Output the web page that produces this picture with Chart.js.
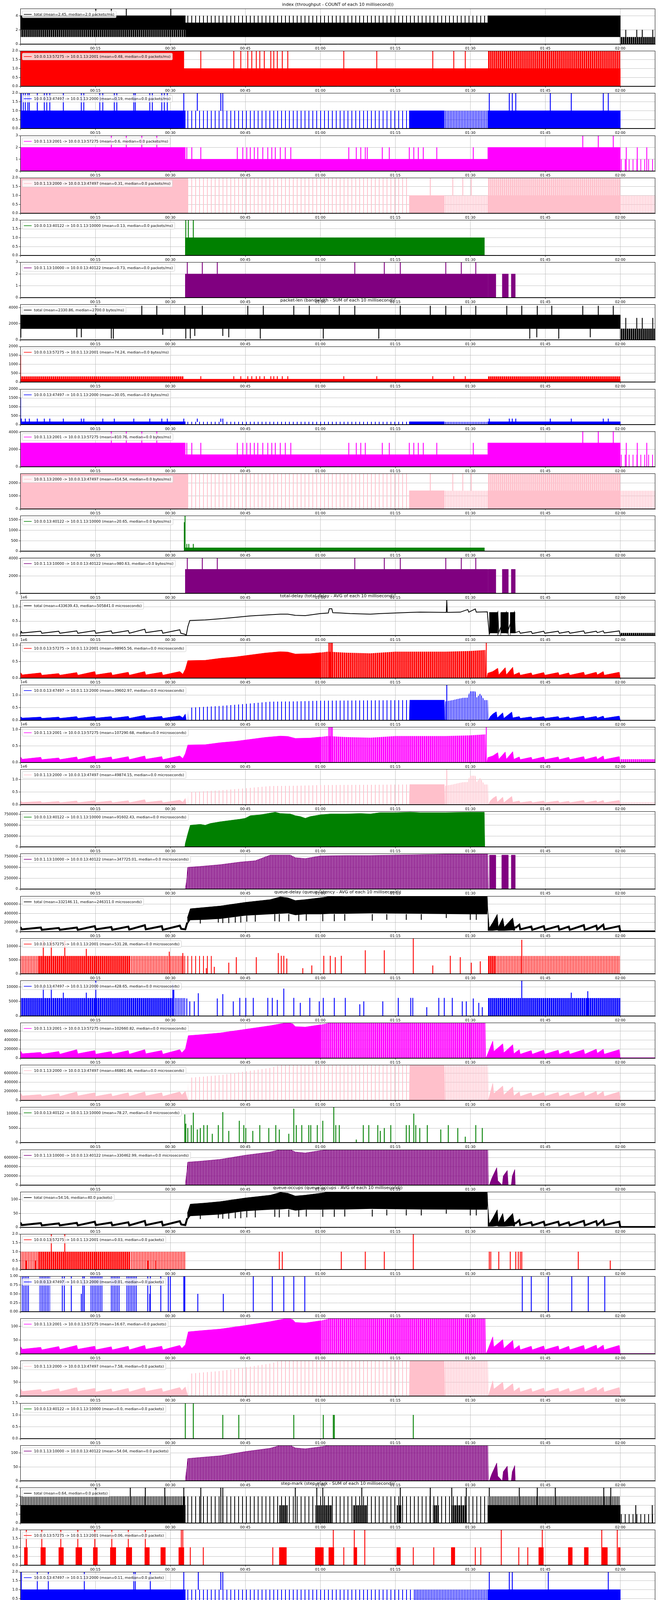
<!DOCTYPE html>
<html>
<head>
<meta charset="utf-8">
<script src="https://cdn.jsdelivr.net/npm/chart.js@4.4.0/dist/chart.umd.min.js"></script>
<style>
  body { margin: 0; background: #fff; }
  #wrap { position: relative; width: 1685px; height: 5328px; }
  #wrap canvas { position: absolute; left: 0; }
</style>
</head>
<body>
<div id="wrap"></div>
<script>
// x axis is in minutes (00:00 .. ~02:07)
const xTicks = [0, 15, 30, 45, 60, 75, 90, 105, 120];
const xTickLabels = ['', '00:15', '00:30', '00:45', '01:00', '01:15', '01:30', '01:45', '02:00'];

const groupTitles = [
  'index (throughput - COUNT of each 10 millisecond))',
  'packet-len (bandwidth - SUM of each 10 millisecond))',
  'total-delay (total-delay - AVG of each 10 millisecond))',
  'queue-delay (queue-latency - AVG of each 10 millisecond))',
  'queue-occups (queue-occups - AVG of each 10 millisecond))',
  'step-mark (step-mark - SUM of each 10 millisecond))',
  'mark-proba (mark-proba - AVG of each 10 millisecond))'
];

const legendLabels = [
  'total (mean=2.45, median=2.0 packets/ms)',
  '10.0.0.13:57275 -> 10.0.1.13:2001 (mean=0.48, median=0.0 packets/ms)',
  '10.0.0.13:47497 -> 10.0.1.13:2000 (mean=0.19, median=0.0 packets/ms)',
  '10.0.1.13:2001 -> 10.0.0.13:57275 (mean=0.6, median=0.0 packets/ms)',
  '10.0.1.13:2000 -> 10.0.0.13:47497 (mean=0.31, median=0.0 packets/ms)',
  '10.0.0.13:40122 -> 10.0.1.13:10000 (mean=0.13, median=0.0 packets/ms)',
  '10.0.1.13:10000 -> 10.0.0.13:40122 (mean=0.73, median=0.0 packets/ms)',
  'total (mean=2330.86, median=2700.0 bytes/ms)',
  '10.0.0.13:57275 -> 10.0.1.13:2001 (mean=74.24, median=0.0 bytes/ms)',
  '10.0.0.13:47497 -> 10.0.1.13:2000 (mean=30.05, median=0.0 bytes/ms)',
  '10.0.1.13:2001 -> 10.0.0.13:57275 (mean=810.76, median=0.0 bytes/ms)',
  '10.0.1.13:2000 -> 10.0.0.13:47497 (mean=414.54, median=0.0 bytes/ms)',
  '10.0.0.13:40122 -> 10.0.1.13:10000 (mean=20.65, median=0.0 bytes/ms)',
  '10.0.1.13:10000 -> 10.0.0.13:40122 (mean=980.63, median=0.0 bytes/ms)',
  'total (mean=433639.43, median=505841.0 microseconds)',
  '10.0.0.13:57275 -> 10.0.1.13:2001 (mean=98965.56, median=0.0 microseconds)',
  '10.0.0.13:47497 -> 10.0.1.13:2000 (mean=39602.97, median=0.0 microseconds)',
  '10.0.1.13:2001 -> 10.0.0.13:57275 (mean=107290.68, median=0.0 microseconds)',
  '10.0.1.13:2000 -> 10.0.0.13:47497 (mean=49874.15, median=0.0 microseconds)',
  '10.0.0.13:40122 -> 10.0.1.13:10000 (mean=91602.43, median=0.0 microseconds)',
  '10.0.1.13:10000 -> 10.0.0.13:40122 (mean=347725.01, median=0.0 microseconds)',
  'total (mean=332146.11, median=246311.0 microseconds)',
  '10.0.0.13:57275 -> 10.0.1.13:2001 (mean=531.28, median=0.0 microseconds)',
  '10.0.0.13:47497 -> 10.0.1.13:2000 (mean=428.65, median=0.0 microseconds)',
  '10.0.1.13:2001 -> 10.0.0.13:57275 (mean=102660.82, median=0.0 microseconds)',
  '10.0.1.13:2000 -> 10.0.0.13:47497 (mean=46861.46, median=0.0 microseconds)',
  '10.0.0.13:40122 -> 10.0.1.13:10000 (mean=78.27, median=0.0 microseconds)',
  '10.0.1.13:10000 -> 10.0.0.13:40122 (mean=330462.99, median=0.0 microseconds)',
  'total (mean=54.16, median=40.0 packets)',
  '10.0.0.13:57275 -> 10.0.1.13:2001 (mean=0.03, median=0.0 packets)',
  '10.0.0.13:47497 -> 10.0.1.13:2000 (mean=0.01, median=0.0 packets)',
  '10.0.1.13:2001 -> 10.0.0.13:57275 (mean=16.67, median=0.0 packets)',
  '10.0.1.13:2000 -> 10.0.0.13:47497 (mean=7.58, median=0.0 packets)',
  '10.0.0.13:40122 -> 10.0.1.13:10000 (mean=0.0, median=0.0 packets)',
  '10.0.1.13:10000 -> 10.0.0.13:40122 (mean=54.04, median=0.0 packets)',
  'total (mean=0.64, median=0.0 packets)',
  '10.0.0.13:57275 -> 10.0.1.13:2001 (mean=0.06, median=0.0 packets)',
  '10.0.0.13:47497 -> 10.0.1.13:2000 (mean=0.11, median=0.0 packets)',
  '10.0.1.13:2001 -> 10.0.0.13:57275 (mean=0.13, median=0.0 packets)',
  '10.0.1.13:2000 -> 10.0.0.13:47497 (mean=0.2, median=0.0 packets)',
  '10.0.0.13:40122 -> 10.0.1.13:10000 (mean=0.01, median=0.0 packets)',
  '10.0.1.13:10000 -> 10.0.0.13:40122 (mean=0.14, median=0.0 packets)',
  'total (mean=28.66, median=0.0 percentage)',
  '10.0.0.13:57275 -> 10.0.1.13:2001 (mean=7.28, median=0.0 percentage)',
  '10.0.0.13:47497 -> 10.0.1.13:2000 (mean=12.92, median=0.0 percentage)',
  '10.0.1.13:2001 -> 10.0.0.13:57275 (mean=9.55, median=0.0 percentage)',
  '10.0.1.13:2000 -> 10.0.0.13:47497 (mean=18.21, median=0.0 percentage)',
  '10.0.0.13:40122 -> 10.0.1.13:10000 (mean=1.87, median=0.0 percentage)',
  '10.0.1.13:10000 -> 10.0.0.13:40122 (mean=8.94, median=0.0 percentage)'
];

// "step" rows hold until the next row; spikes are single thin lines [minute, low, high].

// ---------- index ----------
const idxTotSolid = [[0,2,4],[33,1,3],[93.5,1,4],[120,0,0],[127,0,0]];
const idxTotDense = [[0,1,2],[33,0,0],[120,0,1],[127,0,1]];
const idxTotSparse = [[33,3,4],[93.5,3,3]];
const idxTotSpikes = [[15.1,4,5],[18.2,4,5],[21.2,4,5],[30.1,4,5],[121.1,1,2],[123.3,1,2],[124.4,1,2],[126.5,1,2]];

const idxRSolid = [[0,0,2],[32.7,0,1],[120,0,0],[127,0,0]];
const idxRDense = [[93.5,1,2],[120,1,1]];
const idxRSpikes = [[36.1,1,2],[42.7,1,2],[44.1,1,2],[45.5,1,2],[46.3,1,2],[47.2,1,2],[47.9,1,2],[48.8,1,2],[50.1,1,2],[50.7,1,2],[51.4,1,2],[52.4,1,2],[53.5,1,2],[64.7,1,2],[71.3,1,2],[82.5,1,2],[86.7,1,2],[89.0,1,2]];

const idxBSolid = [[0,0,1],[33,0,0],[77.8,0,1],[84.8,0,0],[93.5,0,1],[120,0,0],[127,0,0]];
const idxBSparse = [[33,0,1],[77.8,0,0]];
const idxBMid = [[84.8,0,1],[93.5,0,0]];
const idxBSpikes = [[0.2,1,2],[0.6,1,2],[1.0,1,2],[1.5,1,2],[1.8,1,2],[3.4,1,2],[4.8,1,2],[5.3,1,2],[5.9,1,2],[8.6,1,2],[12.2,1,2],[12.7,1,2],[15.9,1,2],[16.5,1,2],[18.8,1,2],[19.3,1,2],[22.7,1,2],[23.0,1,2],[25.9,1,2],[26.4,1,2],[28.3,1,2],[28.8,1,2],[29.4,1,2],[32.7,1,2],[35.4,1,2],[40.1,1,2],[40.5,1,2],[93.8,1,2],[97.8,1,2],[98.4,1,2],[99.1,1,2],[106.0,1,2],[110.2,1,2],[116.6,1,2],[117.6,1,2]];

const idxMSolid = [[0,0,2],[33,0,1],[93.5,0,2],[120,0,0],[127,0,0]];
const idxMSparse = [[120,0,1],[127,0,0]];
const idxMSpikes = [[18.2,2,3],[21.2,2,3],[24.3,2,3],[27.3,2,3],[112.5,2,3],[115.6,2,3],[118.6,2,3],[33.3,1,2],[34.3,1,2],[36.1,1,2],[43.4,1,2],[44.5,1,2],[45.3,1,2],[46.0,1,2],[46.8,1,2],[47.5,1,2],[48.5,1,2],[49.5,1,2],[50.3,1,2],[51.0,1,2],[52.0,1,2],[53.0,1,2],[54.1,1,2],[65.7,1,2],[67.2,1,2],[68.1,1,2],[69.0,1,2],[69.4,1,2],[72.4,1,2],[73.8,1,2],[77.8,1,2],[78.7,1,2],[79.6,1,2],[80.6,1,2],[83.3,1,2],[90.6,1,2],[121.2,0,2],[123.4,0,2],[125.3,0,2]];

const idxPSolid = [[0,0,2],[33.5,0,0],[77.8,0,1],[84.8,0,0],[93.5,0,1],[120,0,0],[127,0,0]];
const idxPSparse = [[33.5,0,2],[77.8,0,0]];
const idxPMid = [[84.8,0,1],[93.5,0,0],[120,0,1],[127,0,0]];
const idxPDense = [[93.5,1,2],[120,1,1]];
const idxPSpikes = [[82.0,1,2],[86.5,1,2],[88.5,1,2],[90.2,1,2]];

const idxGSolid = [[0,0,0],[33,0,1],[92.8,0,0],[127,0,0]];
const idxGSpikes = [[33.1,1,2],[33.6,1,2],[34.6,1,2]];

const idxUSolid = [[0,0,0],[33,0,2],[93.5,0,0],[93.6,0,2],[95.1,0,0],[96.4,0,2],[97.6,0,0],[98.2,0,2],[99,0,0],[127,0,0]];
const idxUSpikes = [[33.4,2,3],[36.4,2,3],[39.4,2,3],[66.9,2,3],[72.8,2,3],[76.0,2,3],[85.1,2,3],[88.2,2,3],[91.1,2,3]];

// ---------- packet-len ----------
const lenTotSolid = [[0,1370,3080],[120,0,0],[127,0,0]];
const lenTotDense = [[120,0,1390],[127,0,1390]];
const lenTotSpikes = [[15.1,3000,4200],[24.3,3000,4200],[27.3,3000,4200],[32.9,3000,4200],[36.4,3000,4200],[45.5,3000,4200],[48.6,3000,4200],[54.7,3000,4200],[57.8,3000,4200],[63.8,3000,4200],[66.9,3000,4200],[76.0,3000,4200],[82.0,3000,4200],[85.1,3000,4200],[88.2,3000,4200],[91.1,3000,4200],[97.3,3000,4200],[100.3,3000,4200],[103.4,3000,4200],[106.3,3000,4200],[112.5,3000,4200],[115.6,3000,4200],[118.6,3000,4200],[0.1,300,1400],[11.3,330,1400],[12.2,330,1400],[18.2,150,1400],[18.6,150,1400],[28.5,640,1400],[33.1,150,1400],[34.0,150,1400],[34.9,500,1400],[40.5,500,1400],[41.7,330,1400],[48.0,150,1400],[60.6,150,1400],[71.7,150,1400],[101.9,150,1400],[103.3,330,1400],[107.7,150,1400],[114.0,330,1400],[121.1,1390,2700],[123.3,1390,2700],[124.4,1390,2700],[126.5,1390,2700]];

const lenRSolid = [[0,0,160],[120,0,0],[127,0,0]];
const lenRDense = [[0,160,320],[32.7,160,160],[93.5,160,320],[120,160,160]];
const lenRSpikes = [[0.05,0,1500],[36.1,160,320],[42.7,160,320],[44.1,160,320],[45.5,160,320],[46.3,160,320],[47.2,160,320],[47.9,160,320],[48.8,160,320],[50.1,160,320],[50.7,160,320],[51.4,160,320],[52.4,160,320],[53.5,160,320],[64.7,160,320],[71.3,160,320],[82.5,160,320],[86.7,160,320],[89.0,160,320]];

const lenBSolid = [[0,0,160],[33,0,0],[77.8,0,160],[84.8,0,0],[93.5,0,160],[120,0,0],[127,0,0]];
const lenBSparse = [[33,0,160],[77.8,0,0]];
const lenBMid = [[84.8,0,160],[93.5,0,0]];
const lenBSpikes = [[0.05,0,1500],[0.2,160,330],[1.0,160,330],[1.8,160,330],[3.4,160,330],[4.8,160,330],[5.9,160,330],[8.6,160,330],[12.2,160,330],[12.7,160,330],[16.5,160,330],[18.8,160,330],[22.7,160,330],[25.9,160,330],[28.3,160,330],[29.4,160,330],[32.7,160,330],[35.4,160,330],[40.1,160,330],[40.5,160,330],[93.8,160,330],[97.8,160,330],[98.4,160,330],[99.1,160,330],[106.0,160,330],[110.2,160,330],[116.6,160,330],[117.6,160,330]];

const lenMSolid = [[0,0,2750],[33,0,1400],[93.5,0,2750],[120,0,0],[127,0,0]];
const lenMSparse = [[120,0,1400],[127,0,0]];
const lenMSpikes = [[18.2,2750,4100],[21.2,2750,4100],[24.3,2750,4100],[27.3,2750,4100],[112.5,2750,4100],[115.6,2750,4100],[118.6,2750,4100],[33.3,1400,2750],[34.3,1400,2750],[36.1,1400,2750],[43.4,1400,2750],[44.5,1400,2750],[45.3,1400,2750],[46.0,1400,2750],[46.8,1400,2750],[47.5,1400,2750],[48.5,1400,2750],[49.5,1400,2750],[50.3,1400,2750],[51.0,1400,2750],[52.0,1400,2750],[53.0,1400,2750],[54.1,1400,2750],[65.7,1400,2750],[67.2,1400,2750],[68.1,1400,2750],[69.0,1400,2750],[72.4,1400,2750],[73.8,1400,2750],[77.8,1400,2750],[78.7,1400,2750],[79.6,1400,2750],[80.6,1400,2750],[83.3,1400,2750],[90.6,1400,2750],[121.2,0,2750],[123.4,0,2750],[125.3,0,2750]];

const lenPSolid = [[0,0,2720],[33.5,0,0],[77.8,0,1400],[84.8,0,0],[93.5,0,1400],[120,0,0],[127,0,0]];
const lenPSparse = [[33.5,0,2720],[77.8,0,0]];
const lenPMid = [[84.8,0,1400],[93.5,0,0],[120,0,1400],[127,0,0]];
const lenPDense = [[93.5,1400,2720],[120,1400,1400]];
const lenPSpikes = [[82.0,1400,2720],[86.5,1400,2720],[88.5,1400,2720],[90.2,1400,2720]];

const lenGSolid = [[0,0,0],[33,0,160],[92.8,0,0],[127,0,0]];
const lenGSpikes = [[32.8,0,1380],[32.95,0,1700],[33.3,160,340],[33.7,160,340],[34.6,160,340]];

const lenUSolid = [[0,0,0],[33,0,2750],[93.5,0,0],[93.6,0,2750],[95.1,0,0],[96.4,0,2750],[97.6,0,0],[98.2,0,2750],[99,0,0],[127,0,0]];
const lenUSpikes = [[33.4,2750,4070],[36.4,2750,4070],[39.4,2750,4070],[66.9,2750,4070],[72.8,2750,4070],[76.0,2750,4070],[85.1,2750,4070],[88.2,2750,4070],[91.1,2750,4070]];

// ---------- total-delay (microseconds) ----------
const tdlTotLine = [[0,20e3],[0.2,140e3],[0.4,90e3],[4.1,150e3],[4.3,80e3],[7.7,150e3],[7.9,80e3],[11.3,160e3],[11.5,80e3],[14.9,170e3],[15.1,80e3],[18.2,160e3],[18.4,80e3],[21.6,170e3],[21.8,80e3],[24.9,220e3],[25.1,100e3],[28.3,180e3],[28.5,80e3],[31.9,200e3],[32.1,80e3],[32.8,50e3],[33.2,20e3],[33.5,300e3],[33.9,520e3],[37,540e3],[40,580e3],[43,630e3],[46,680e3],[49,710e3],[52,740e3],[53.5,740e3],[55,700e3],[57,690e3],[60,760e3],[61.6,780e3],[61.8,930e3],[62.3,930e3],[62.5,790e3],[64,780e3],[66,760e3],[68,750e3],[70,740e3],[72,760e3],[75,780e3],[78,800e3],[80,810e3],[85.2,800e3],[85.3,1220e3],[85.4,800e3],[88,810e3],[89.5,900e3],[89.7,810e3],[91,920e3],[91.2,810e3],[93.4,820e3],[93.8,50e3],[94.5,300e3],[95.5,800e3],[95.7,100e3],[97.2,800e3],[97.4,100e3],[98.8,800e3],[99,100e3],[99.8,150e3],[100,80e3],[102.2,140e3],[102.4,70e3],[104.7,150e3],[104.9,80e3],[107.6,150e3],[107.8,80e3],[109.7,140e3],[109.9,80e3],[112.7,160e3],[112.9,80e3],[115.2,150e3],[115.4,100e3],[116.6,160e3],[116.8,90e3],[119.8,160e3],[120,20e3],[120.2,0]];
const tdlTotBlocks = [[93.8,80e3,800e3],[95.5,0,0],[96.1,80e3,800e3],[97.6,0,0],[98,80e3,800e3],[99,80e3,80e3]];
const tdlTotTail = [[120,90e3],[127,90e3]];

const tdlRA = [[0,180e3],[0.4,100e3],[4.1,160e3],[4.3,90e3],[7.7,140e3],[7.9,90e3],[11.3,170e3],[11.5,90e3],[14.9,200e3],[15.1,100e3],[18.2,170e3],[18.4,90e3],[21.6,180e3],[21.8,90e3],[24.9,200e3],[25.1,100e3],[28.3,180e3],[28.5,90e3],[31.9,200e3],[32.5,120e3],[33,270e3],[33.5,530e3],[37,540e3],[40,600e3],[43,640e3],[46,700e3],[49,760e3],[52,800e3],[53.5,790e3],[55,730e3],[58,740e3],[60,770e3],[60.01,0]];
const tdlRB = [[60,0],[60.01,770e3],[61.5,800e3],[65,770e3],[70,750e3],[75,800e3],[80,800e3],[85,800e3],[90,820e3],[93,850e3],[93.1,0]];
const tdlRC = [[93.3,0],[93.5,150e3],[94.5,200e3],[95.5,300e3],[95.7,100e3],[97,320e3],[97.2,100e3],[98.5,330e3],[98.7,100e3],[99.8,170e3],[100,90e3],[102.2,160e3],[102.4,90e3],[104.7,170e3],[104.9,90e3],[107.6,170e3],[107.8,90e3],[109.7,160e3],[109.9,90e3],[112.7,180e3],[112.9,90e3],[115.2,180e3],[115.4,100e3],[116.6,200e3],[116.8,90e3],[119.8,180e3],[120,0],[127,0]];
const tdlRSpikes = [[61.7,0,1075e3],[61.95,0,1075e3],[62.2,0,1075e3],[62.4,0,1075e3],[93.2,0,1075e3]];

const tdlBA = [[0,150e3],[0.4,90e3],[4.1,130e3],[4.3,80e3],[7.7,130e3],[7.9,80e3],[11.3,150e3],[11.5,80e3],[14.9,160e3],[15.1,90e3],[18.2,150e3],[18.4,80e3],[21.6,160e3],[21.8,80e3],[24.9,200e3],[25.1,90e3],[28.3,160e3],[28.5,80e3],[31.9,180e3],[32.5,100e3],[33,250e3],[33.2,0]];
const tdlBB = [[33.5,0],[33.6,500e3],[40,570e3],[45,650e3],[50,740e3],[55,750e3],[60,780e3],[70,790e3],[77.8,800e3],[77.9,0]];
const tdlBC = [[77.8,0],[77.9,800e3],[84.8,800e3],[84.9,0]];
const tdlBD = [[84.9,0],[85,750e3],[86.5,800e3],[87.5,850e3],[88.5,890e3],[89.5,900e3],[89.9,1150e3],[91,1150e3],[91.3,900e3],[92,1060e3],[92.8,800e3],[93.5,800e3],[93.6,0]];
const tdlBE = [[93.6,0],[94,150e3],[94.5,250e3],[95.2,340e3],[95.4,100e3],[96.5,300e3],[96.7,80e3],[98.3,330e3],[98.5,100e3],[99.8,150e3],[100,80e3],[102.2,140e3],[102.4,80e3],[104.7,150e3],[104.9,80e3],[107.6,150e3],[107.8,80e3],[109.7,140e3],[109.9,80e3],[112.7,170e3],[112.9,80e3],[115.2,160e3],[115.4,90e3],[116.6,170e3],[116.8,80e3],[119.8,170e3],[120,0],[127,0]];
const tdlBSpikes = [[85.3,0,1410e3]];

const tdlMA = [[0,180e3],[0.4,100e3],[4.1,160e3],[4.3,90e3],[7.7,140e3],[7.9,90e3],[11.3,170e3],[11.5,90e3],[14.9,200e3],[15.1,100e3],[18.2,170e3],[18.4,90e3],[21.6,180e3],[21.8,90e3],[24.9,200e3],[25.1,100e3],[28.3,180e3],[28.5,90e3],[31.9,200e3],[32.5,120e3],[33,270e3],[33.5,530e3],[37,540e3],[40,600e3],[43,640e3],[46,700e3],[49,760e3],[52,800e3],[53.5,790e3],[55,730e3],[58,740e3],[60,770e3],[60.01,0]];
const tdlMB = [[60,0],[60.01,770e3],[61.5,800e3],[65,770e3],[70,750e3],[75,800e3],[80,800e3],[85,800e3],[90,820e3],[93,850e3],[93.1,0]];
const tdlMC = [[93.3,0],[93.5,150e3],[94.5,200e3],[95.5,300e3],[95.7,100e3],[97,320e3],[97.2,100e3],[98.5,330e3],[98.7,100e3],[99.8,170e3],[100,90e3],[102.2,160e3],[102.4,90e3],[104.7,170e3],[104.9,90e3],[107.6,170e3],[107.8,90e3],[109.7,160e3],[109.9,90e3],[112.7,180e3],[112.9,90e3],[115.2,180e3],[115.4,100e3],[116.6,200e3],[116.8,90e3],[119.8,180e3],[120,0],[127,0]];
const tdlMTail = [[120,100e3],[127,100e3]];
const tdlMSpikes = [[61.7,0,1075e3],[61.95,0,1075e3],[62.2,0,1075e3],[62.4,0,1075e3],[93.2,0,1075e3]];

const tdlPA = [[0,150e3],[0.4,90e3],[4.1,130e3],[4.3,80e3],[7.7,130e3],[7.9,80e3],[11.3,150e3],[11.5,80e3],[14.9,160e3],[15.1,90e3],[18.2,150e3],[18.4,80e3],[21.6,160e3],[21.8,80e3],[24.9,200e3],[25.1,90e3],[28.3,160e3],[28.5,80e3],[31.9,180e3],[32.5,100e3],[33,250e3],[33.2,0]];
const tdlPB = [[33.5,0],[33.6,500e3],[40,570e3],[45,650e3],[50,740e3],[55,750e3],[60,780e3],[70,790e3],[77.8,800e3],[77.9,0]];
const tdlPC = [[77.8,0],[77.9,800e3],[84.8,800e3],[84.9,0]];
const tdlPD = [[84.9,0],[85,750e3],[86.5,800e3],[87.5,850e3],[88.5,890e3],[89.5,900e3],[89.9,1150e3],[91,1150e3],[91.3,900e3],[92,1060e3],[92.8,800e3],[93.5,800e3],[93.6,0]];
const tdlPE = [[93.6,0],[94,150e3],[94.5,250e3],[95.2,340e3],[95.4,100e3],[96.5,300e3],[96.7,80e3],[98.3,330e3],[98.5,100e3],[99.8,150e3],[100,80e3],[102.2,140e3],[102.4,80e3],[104.7,150e3],[104.9,80e3],[107.6,150e3],[107.8,80e3],[109.7,140e3],[109.9,80e3],[112.7,170e3],[112.9,80e3],[115.2,160e3],[115.4,90e3],[116.6,170e3],[116.8,80e3],[119.8,170e3],[120,0],[127,0]];
const tdlPTail = [[120,100e3],[127,100e3]];
const tdlPSpikes = [[85.3,0,1410e3]];

const tdlGA = [[0,0],[32.9,0],[33,80e3],[33.5,300e3],[34,500e3],[36,520e3],[37,500e3],[38,540e3],[40,580e3],[42,610e3],[44,640e3],[45,660e3],[46,720e3],[48,740e3],[50,780e3],[51,800e3],[52,770e3],[54,760e3],[55,720e3],[56,700e3],[57,660e3],[58,700e3],[60,740e3],[62,760e3],[65,760e3],[68,770e3],[70,760e3],[72,790e3],[75,790e3],[78,800e3],[80,790e3],[85,790e3],[90,800e3],[92.8,800e3],[92.9,0],[127,0]];

const tdlUA = [[0,0],[33,0],[33.2,150e3],[33.5,500e3],[36,520e3],[40,560e3],[44,620e3],[47,650e3],[50,780e3],[54,780e3],[55,720e3],[57,700e3],[60,760e3],[65,770e3],[70,770e3],[75,780e3],[80,790e3],[85,800e3],[90,800e3],[93.5,800e3],[93.6,0],[127,0]];
const tdlUB = [[93.8,780e3],[95.1,0],[96.3,780e3],[97.6,0],[98.2,780e3],[99,0],[127,0]];

// ---------- queue-delay (microseconds) ----------
const qdlTotA = [[0,100e3],[0.3,50e3],[4.1,90e3],[4.3,40e3],[7.7,80e3],[7.9,40e3],[11.3,90e3],[11.5,40e3],[14.9,120e3],[15.1,50e3],[18.2,100e3],[18.4,40e3],[21.6,110e3],[21.8,45e3],[24.9,140e3],[25.1,50e3],[28.3,120e3],[28.5,40e3],[31.9,130e3],[32.2,60e3],[33,50e3],[33.4,200e3]];
const qdlTotB = [[33.4,150e3,300e3],[34,250e3,500e3],[37,260e3,530e3],[40,280e3,560e3],[45,350e3,640e3],[50,380e3,700e3],[52,390e3,760e3],[53.5,400e3,740e3],[55,360e3,680e3],[57,380e3,700e3],[60,380e3,740e3],[62,390e3,770e3],[65,390e3,760e3],[70,400e3,770e3],[80,390e3,776e3],[90,380e3,776e3],[93.4,380e3,776e3],[93.5,500e3,500e3]];
const qdlTotC = [[93.5,20e3,500e3],[93.8,20e3,80e3],[94.5,20e3,200e3],[95.4,30e3,380e3],[95.6,20e3,100e3],[96.5,20e3,300e3],[96.8,20e3,100e3],[98.5,30e3,300e3],[98.8,20e3,100e3],[99,40e3,120e3]];
const qdlTotD = [[99,80e3],[99.8,150e3],[100,50e3],[102.2,110e3],[102.4,40e3],[104.7,120e3],[104.9,40e3],[107.6,120e3],[107.8,40e3],[109.7,110e3],[109.9,40e3],[112.7,140e3],[112.9,40e3],[115.2,130e3],[115.4,50e3],[116.6,150e3],[116.8,50e3],[119.8,120e3],[120,5e3],[127,5e3]];
const qdlTotSpikes = [[36,180e3,300e3],[39.6,200e3,300e3],[40.5,190e3,300e3],[41.7,190e3,300e3],[43,200e3,320e3],[44.1,200e3,330e3],[45.3,220e3,350e3],[47,220e3,360e3],[50.9,230e3,380e3],[51.8,220e3,380e3],[53.7,230e3,380e3],[55.7,230e3,380e3],[57.2,240e3,380e3],[60.5,230e3,380e3],[62.8,230e3,380e3],[64.9,240e3,380e3],[70.4,240e3,380e3],[73.3,260e3,380e3],[77.2,260e3,380e3],[80.2,260e3,380e3],[85.2,300e3,380e3],[90,260e3,380e3],[91.2,260e3,380e3]];

const qdlRDense = [[3.5,6500],[22,0],[93.5,6500],[95,0]];
const qdlRMid = [[0,6500],[3.5,0],[22,6500],[33,0],[95,6500],[120,0],[127,0]];
const qdlRSparse = [[33,6500],[38.5,6500]];
const qdlRSpikes = [[4.6,0,12000],[6.2,0,12000],[8.9,0,12000],[13.2,0,9000],[29.8,0,8000],[32.5,0,7500],[37.2,0,2000],[38.8,0,2500],[41.7,0,4000],[43.2,0,6000],[47.2,0,6000],[51.6,0,7500],[52.2,0,6500],[52.7,0,6500],[53.3,0,5500],[56.5,0,2000],[58.3,0,3000],[60.7,0,6500],[62,0,6500],[63,0,6000],[64.2,0,6500],[69,0,8500],[72.8,0,8500],[78.6,0,13000],[82.5,0,3000],[86,0,6500],[88,0,6000],[90.2,0,4000],[92,0,4500],[100.3,0,12300]];

const qdlBDense = [[0,6200],[30.5,0],[93.5,6200],[120,0],[127,0]];
const qdlBMid = [[30.5,6200],[33,6200]];
const qdlBSpikes = [[4.6,0,10000],[6.2,0,10000],[8.6,0,8000],[13.2,0,8000],[15.1,0,12200],[30.5,0,11000],[30.7,0,9000],[33.3,0,6000],[33.9,0,5000],[34.8,0,5000],[35.6,0,7800],[39.4,0,6000],[40.5,0,7500],[42.6,0,5000],[43.9,0,6200],[45.1,0,6200],[46.6,0,6200],[49.5,0,6200],[50.4,0,6200],[51.4,0,5500],[52.7,0,9400],[54.7,0,6200],[56,0,4500],[57.9,0,6200],[59.8,0,5000],[60.6,0,6200],[62.8,0,6200],[65,0,6200],[67.9,0,4000],[68.7,0,5000],[72.5,0,5000],[75.6,0,6200],[78.1,0,6200],[78.5,0,6200],[81.3,0,3000],[83.7,0,6200],[84.8,0,6200],[86.4,0,6200],[88.4,0,5000],[89.2,0,5000],[90.6,0,6000],[91.7,0,4500],[92.4,0,3000],[100.3,0,12200],[110.2,0,8000],[113.5,0,8500]];

const qdlMA = [[0,170e3],[0.4,100e3],[4.1,130e3],[4.3,90e3],[7.7,150e3],[7.9,90e3],[11.3,190e3],[11.5,100e3],[14.9,170e3],[15.1,90e3],[18.2,150e3],[18.4,90e3],[21.6,170e3],[21.8,90e3],[24.9,190e3],[25.1,100e3],[28.3,170e3],[28.5,90e3],[31.9,190e3],[32.3,120e3],[33,200e3],[33.3,350e3],[33.6,500e3],[36,520e3],[40,560e3],[45,640e3],[50,720e3],[52,760e3],[53.5,787e3],[54.5,760e3],[55,700e3],[57,690e3],[60,740e3],[60.01,0]];
const qdlMB = [[60,0],[60.01,740e3],[62,787e3],[93,787e3],[93.1,0]];
const qdlMC = [[93.1,0],[93.5,100e3],[94.5,380e3],[94.7,150e3],[96.5,320e3],[96.7,120e3],[98.5,300e3],[98.7,100e3],[99.8,190e3],[100,90e3],[102.2,170e3],[102.4,90e3],[104.7,180e3],[104.9,90e3],[107.6,180e3],[107.8,90e3],[109.7,170e3],[109.9,90e3],[112.7,190e3],[112.9,90e3],[115.2,200e3],[115.4,110e3],[116.6,200e3],[116.8,90e3],[119.8,190e3],[120,10e3],[127,10e3]];

const qdlPA = [[0,170e3],[0.4,100e3],[4.1,130e3],[4.3,90e3],[7.7,150e3],[7.9,90e3],[11.3,190e3],[11.5,100e3],[14.9,170e3],[15.1,90e3],[18.2,150e3],[18.4,90e3],[21.6,170e3],[21.8,90e3],[24.9,190e3],[25.1,100e3],[28.3,170e3],[28.5,90e3],[31.9,190e3],[32.3,120e3],[33,200e3],[33.5,0]];
const qdlPB = [[33.5,0],[33.6,500e3],[36,520e3],[40,560e3],[45,640e3],[50,720e3],[52,787e3],[77.8,787e3],[77.9,0]];
const qdlPC = [[77.8,0],[77.9,787e3],[84.8,787e3],[84.9,0]];
const qdlPD = [[84.9,0],[85,787e3],[93.5,787e3],[93.6,0]];
const qdlPE = [[93.6,0],[94.5,380e3],[94.7,150e3],[96.5,320e3],[96.7,120e3],[98.5,300e3],[98.7,100e3],[99.8,190e3],[100,90e3],[102.2,170e3],[102.4,90e3],[104.7,180e3],[104.9,90e3],[107.6,180e3],[107.8,90e3],[109.7,170e3],[109.9,90e3],[112.7,190e3],[112.9,90e3],[115.2,200e3],[115.4,110e3],[116.6,200e3],[116.8,90e3],[119.8,190e3],[120,5e3],[127,5e3]];

const qdlGBase = [[0,0],[127,0]];
const qdlGSpikes = [[32.9,0,9700],[33.1,0,6500],[33.5,0,5000],[34.2,0,6000],[34.6,0,10300],[35.4,0,4500],[36,0,5000],[36.7,0,6000],[37.4,0,6000],[38.4,0,3000],[39.6,0,6000],[40.5,0,10500],[41.7,0,4000],[43.8,0,7500],[44.7,0,6000],[45.1,0,5000],[46.5,0,4000],[47.9,0,6000],[49.7,0,5000],[51.1,0,6000],[51.8,0,4500],[53.7,0,3000],[54.7,0,11700],[55.2,0,6000],[56.3,0,6000],[57.7,0,6000],[58.1,0,6000],[59.4,0,6000],[60.5,0,7500],[62.7,0,12300],[63.1,0,6000],[63.8,0,6000],[67.2,0,1000],[68.6,0,6000],[69.7,0,6000],[71.5,0,6000],[72,0,4000],[72.8,0,5000],[74.1,0,6000],[77.2,0,6000],[77.8,0,6000],[78.7,0,10000],[79.1,0,6000],[79.9,0,5000],[81.4,0,6000],[84.1,0,4500],[85.6,0,6000],[87.5,0,5000],[89,0,2000],[91.1,0,6000],[92.4,0,5000]];

const qdlUA = [[33,0],[33.2,200e3],[33.5,500e3],[36,520e3],[40,560e3],[45,650e3],[50,720e3],[52,772e3],[54,772e3],[55,720e3],[57,700e3],[60,750e3],[62,772e3],[93.5,772e3],[93.6,0]];
const qdlUB = [[0,0],[93.8,0],[94.3,150e3],[95.3,380e3],[95.5,100e3],[96.4,0],[96.6,200e3],[97.4,320e3],[97.6,0],[98.2,0],[98.4,200e3],[98.9,340e3],[99,0],[127,0]];

// ---------- queue-occups (packets) ----------
const qocTotA = [[0,17],[0.3,8],[4.1,15],[4.3,7],[7.7,14],[7.9,7],[11.3,16],[11.5,7],[14.9,20],[15.1,8],[18.2,17],[18.4,7],[21.6,18],[21.8,7],[24.9,23],[25.1,8],[28.3,20],[28.5,7],[31.9,22],[32.2,10],[33,8],[33.4,33]];
const qocTotB = [[33.4,25,50],[34,40,83],[37,43,87],[40,46,92],[45,58,105],[50,63,115],[52,64,125],[53.5,66,122],[55,60,112],[57,63,115],[60,63,122],[62,64,127],[65,64,125],[70,66,127],[80,64,127],[90,63,127],[93.4,63,127],[93.5,83,83]];
const qocTotC = [[93.5,3,83],[93.8,3,13],[94.5,3,33],[95.4,5,63],[95.6,3,17],[96.5,3,50],[96.8,3,17],[98.5,5,50],[98.8,3,17],[99,7,20]];
const qocTotD = [[99,13],[99.8,25],[100,8],[102.2,18],[102.4,7],[104.7,20],[104.9,7],[107.6,20],[107.8,7],[109.7,18],[109.9,7],[112.7,23],[112.9,7],[115.2,22],[115.4,8],[116.6,25],[116.8,8],[119.8,20],[120,1],[127,1]];
const qocTotSpikes = [[36,30,50],[39.6,33,50],[40.5,31,50],[41.7,31,50],[43,33,53],[44.1,33,55],[45.3,36,58],[47,36,60],[50.9,38,63],[51.8,36,63],[53.7,38,63],[55.7,38,63],[57.2,39,63],[60.5,38,63],[62.8,38,63],[64.9,39,63],[70.4,39,63],[73.3,43,63],[77.2,43,63],[80.2,43,63],[85.2,49,63],[90,43,63],[91.2,43,63]];

const qocRBase = [[0,0],[127,0]];
const qocRDense = [[3.5,1],[22,1]];
const qocRMid = [[0,1],[3.5,0],[22,1],[33,1]];
const qocRSpikes = [[1.2,0,0.5],[3,0,0.5],[6.2,0,2],[8.9,0,2],[25.5,0,0.5],[27,0,0.5],[51.8,0,1],[52.4,0,1],[64.2,0,1],[69,0,1],[72.8,0,1],[78.6,0,2],[93.8,0,1],[94.1,0,1],[95.7,0,1],[98,0,1],[99.1,0,1],[99.6,0,1],[100,0,1],[100.3,0,1],[111.6,0,1],[118,0,0.5]];

const qocBBase = [[0,0],[127,0]];
const qocBMid = [[0.2,1],[1.8,0],[3.8,1],[6.0,0],[14,1],[16.5,0],[18,1],[19.9,0],[21.2,1],[23.3,1]];
const qocBSpikes = [[8.4,0,1],[8.8,0,1],[10.2,0,1],[12.2,0,0.5],[12.5,0,1],[12.8,0,1],[25.5,0,1],[25.9,0,0.5],[26,0,1],[28.1,0,1],[29.6,0,1],[30,0,1],[32.7,0,1],[32.9,0,1],[35.5,0,0.5],[40.6,0,0.5],[46.6,0,1],[50.4,0,1],[52.7,0,1],[54.7,0,1],[56.9,0,1],[100.4,0,1],[102.2,0,1],[105.6,0,1],[110.3,0,1],[113.6,0,1],[116.9,0,1]];

const qocMA = [[0,28],[0.4,17],[4.1,24],[4.3,15],[7.7,27],[7.9,16],[11.3,31],[11.5,17],[14.9,28],[15.1,15],[18.2,26],[18.4,15],[21.6,28],[21.8,15],[24.9,31],[25.1,17],[28.3,28],[28.5,15],[31.9,31],[32.3,20],[33,33],[33.3,57],[33.6,80],[36,84],[40,90],[45,103],[50,117],[52,124],[53.5,128.7],[54.5,124],[55,114],[57,112],[60,120],[60.01,0]];
const qocMB = [[60,0],[60.01,120],[62,128.7],[93,128.7],[93.1,0]];
const qocMC = [[93.1,0],[93.5,15],[94.5,62],[94.7,25],[96.5,52],[96.7,20],[98.5,49],[98.7,17],[99.8,31],[100,15],[102.2,28],[102.4,15],[104.7,29],[104.9,15],[107.6,29],[107.8,15],[109.7,28],[109.9,15],[112.7,31],[112.9,15],[115.2,32],[115.4,18],[116.6,32],[116.8,15],[119.8,31],[120,1.5],[127,1.5]];

const qocPA = [[0,28],[0.4,17],[4.1,24],[4.3,15],[7.7,27],[7.9,16],[11.3,31],[11.5,17],[14.9,28],[15.1,15],[18.2,26],[18.4,15],[21.6,28],[21.8,15],[24.9,31],[25.1,17],[28.3,28],[28.5,15],[31.9,31],[32.3,20],[33,33],[33.5,0]];
const qocPB = [[33.5,0],[33.6,80],[36,84],[40,90],[45,103],[50,117],[52,127.6],[77.8,127.6],[77.9,0]];
const qocPC = [[77.8,0],[77.9,127.6],[84.8,127.6],[84.9,0]];
const qocPD = [[84.9,0],[85,127.6],[93.5,127.6],[93.6,0]];
const qocPE = [[93.6,0],[94.5,55],[94.7,25],[96.5,50],[96.7,20],[98.5,45],[98.7,17],[99.8,31],[100,15],[102.2,28],[102.4,15],[104.7,29],[104.9,15],[107.6,29],[107.8,15],[109.7,28],[109.9,15],[112.7,31],[112.9,15],[115.2,32],[115.4,18],[116.6,32],[116.8,15],[119.8,31],[120,1],[127,1]];

const qocGBase = [[0,0],[127,0]];
const qocGSpikes = [[33,0,1.5],[34.6,0,1.5],[40.5,0,1],[43.7,0,1],[54.7,0,1],[60.6,0,1],[62.6,0,1],[62.8,0,1],[78.6,0,1]];

const qocUA = [[33,0],[33.2,33],[33.5,80],[36,84],[40,90],[45,105],[50,117],[52,127.5],[54,127.5],[55,118],[57,115],[60,122],[62,127.5],[93.5,127.5],[93.6,0]];
const qocUB = [[0,0],[93.8,0],[94.3,25],[95.3,64],[95.5,17],[96.4,0],[96.6,33],[97.4,53],[97.6,0],[98.2,0],[98.4,33],[98.9,55],[99,0],[127,0]];

// ---------- step-mark (packets) ----------
const smkTotBase = [[0,0],[127,0]];
const smkTotSolid = [[0,2],[33,0],[93.5,2],[120,0],[127,0]];
const smkTotMid = [[0,2,3],[33,0,0],[93.5,2,3],[120,0,0]];
const smkTotSparse = [[33,3],[93.5,0],[120,1],[127,1]];
const smkTotDense = [[51.8,2],[53.5,0],[59,2],[62.3,0],[66.5,2],[69.4,0],[75.3,2],[76.2,0],[82.5,2],[83.7,0],[86.2,2],[89.2,0]];
const smkTotSpikes = [[15.1,0,4],[22,0,4],[25,0,4],[28.9,0,4],[32.7,0,4],[36.1,0,4],[40.1,0,4],[40.5,0,4],[55,0,4],[59.3,0,4],[60.5,0,4],[68.3,0,4],[76,0,4],[82,0,4],[86.3,0,4],[89.2,0,4],[93.8,0,4],[99.8,0,4],[103.4,0,4],[107,0,4],[116.7,0,4],[118.1,0,4],[123.1,0,2],[126.4,0,2]];

const smkRSolid = [[0,0],[0.8,1],[1.4,0],[4.1,1],[5.0,0],[7.7,1],[8.6,0],[11.1,1],[12.3,0],[14.6,1],[15.4,0],[18,1],[19.1,0],[21.2,1],[22.3,0],[24.9,1],[25.8,0],[28.1,1],[29,0],[31.7,1],[32.7,0],[51.8,1],[53.2,0],[59,1],[60.6,0],[61.7,1],[62.7,0],[66.7,1],[67.3,0],[75.3,1],[76,0],[86.2,1],[86.9,0],[103.7,1],[104.6,0],[109.6,1],[110.4,0],[112.8,1],[113.6,0],[116.3,1],[117.4,0],[119.6,1],[120,0],[127,0]];
const smkRSpikes = [[1.2,0,2],[4.3,0,2],[8.1,0,2],[11.5,0,2],[14.9,0,2],[18.3,0,2],[21.6,0,2],[25.0,0,2],[32.2,0,2],[32.5,0,2],[34,0,1],[36.6,0,1],[50.5,0,1],[62.6,0,2],[64.7,0,1],[66.8,0,2],[68.9,0,2],[78.6,0,1],[82.7,0,1],[86.4,0,1],[91,0,1],[92.1,0,1],[96.2,0,2],[99.7,0,1],[101.5,0,1],[104.4,0,2],[116.3,0,2],[119.4,0,2]];

const smkBSolid = [[0,1],[33,0],[93.5,1],[120,0],[127,0]];
const smkBSparse = [[33,1],[78.6,0]];
const smkBMid = [[78.6,1],[93.5,0]];
const smkBSpikes = [[0.2,1,2],[3.4,1,2],[5.6,1,2],[12.8,1,2],[22.7,1,2],[23,1,2],[26,1,2],[32.7,1,2],[35.6,1,2],[40.1,1,2],[40.5,1,2],[93.8,1,2],[97.8,1,2],[98.4,1,2],[105.6,1,2],[117.6,1,2]];

const smkMSolid = [[0,0],[0.8,2],[1.4,0],[4.1,2],[5.0,0],[7.7,2],[8.6,0],[11.1,2],[12.3,0],[14.6,2],[15.4,0],[18,2],[19.1,0],[21.2,2],[22.3,0],[24.9,2],[25.8,0],[28.1,2],[29,0],[31.7,2],[32.7,0],[51.8,2],[53.5,0],[59,1],[61.4,0],[62,1],[63.1,0],[66.5,2],[67.1,0],[75.3,1],[76.2,0],[86.2,1],[86.9,0],[91,1],[92,0],[96,2],[96.4,0],[99.6,2],[100,0],[101.3,2],[101.7,0],[103.7,2],[104.6,0],[107.5,2],[107.9,0],[109.5,2],[110.4,0],[112.6,2],[113.5,0],[116.3,2],[117.4,0],[119.5,2],[120,0],[127,0]];
const smkMSparse = [[120,1],[127,1]];
const smkMSpikes = [[18,2,3],[21.6,2,3],[34,0,2],[34.6,0,1],[50.4,0,1],[65.3,0,1],[69.1,0,2],[78.6,0,2],[81.3,0,1],[82.5,0,1],[93.8,0,2],[121.3,0,2],[123.4,0,2],[124.5,0,2]];

const smkPSolid = [[0,1],[33,0],[93.5,1],[120,0],[127,0]];
const smkPMid = [[0,1,2],[33,0,0],[78,0,1],[93.5,0,0]];
const smkPSparse = [[33,0,2],[78,0,0]];
const smkPDense = [[93.5,1,2],[120,0,0]];

const smkGSolid = [[0,0],[33.8,1],[34.4,0],[51.8,1],[53.5,0],[59,1],[60.6,0],[62.6,1],[63.5,0],[66.5,1],[67.5,0],[69,1],[69.6,0],[75.3,1],[76.2,0],[82.4,1],[83.4,0],[86.3,1],[86.9,0],[90.9,1],[91.6,0],[127,0]];
const smkGSpikes = [[34,0,2],[59.4,0,2],[68.9,0,2],[86.5,0,2],[61.9,0,1],[73.5,0,1],[77.5,0,1],[78.6,0,1],[81.3,0,1],[84.5,0,1],[92.7,0,1]];

const smkUSolid = [[0,0],[33.8,2],[34.4,0],[51.8,2],[53.5,0],[59,2],[61.2,0],[62.6,2],[63.5,0],[66.5,2],[67.5,0],[69,2],[69.6,0],[75.3,2],[76.2,0],[78.6,2],[79.2,0],[82.3,2],[83,0],[86.2,2],[86.9,0],[91,2],[92,0],[127,0]];
const smkUSpikes = [[67,0,3],[76,0,3],[91,0,3],[50.4,0,2],[73.5,0,2],[81.3,0,2],[84.6,0,2],[92.5,0,2],[96.2,0,2]];

// ---------- mark-proba (percentage) ----------
const mpbTotBase = [[0,0],[127,0]];
const mpbTotDense = [[0,100],[33,0],[54.7,100],[56.7,0],[59,100],[62.3,0],[66.2,100],[69.5,0],[77.8,100],[80.5,0],[82.5,100],[84,0],[86,100],[89.5,0],[90.5,100],[120,0],[127,0]];
const mpbTotSparse = [[33,100],[120,100]];
const mpbTotMid = [[120,30],[127,30]];

const mpbRSolid = [[0,0],[0.8,100],[1.5,0],[4.1,100],[5.1,0],[7.7,100],[8.7,0],[11.1,100],[12.4,0],[14.6,100],[15.5,0],[18,100],[19.1,0],[21.2,100],[22.3,0],[24.9,100],[25.8,0],[28.1,100],[29.1,0],[31.6,100],[32.7,0],[33.9,100],[34.2,0],[51.8,100],[53.5,0],[59,100],[61.5,0],[61.9,100],[63,0],[66.5,100],[67.3,0],[75.3,100],[76.1,0],[86.2,100],[86.9,0],[90.6,100],[91.6,0],[96.2,100],[96.5,0],[99.8,100],[100.1,0],[101.5,100],[101.8,0],[103.7,100],[104.6,0],[109.5,100],[110.3,0],[112.6,100],[113.5,0],[116.3,100],[117.3,0],[119.5,100],[120,0],[127,0]];
const mpbRSpikes = [[50.5,0,100],[64.7,0,100],[69,0,75],[78.6,0,100],[82.4,0,65],[83.3,0,60],[92.1,0,100],[107.6,0,65]];

const mpbBBase = [[0,1],[127,1]];
const mpbBA = [[0,60],[0.5,100],[1.5,100],[1.6,10],[2.5,60],[3.5,100],[4.1,100],[4.2,5],[5.5,60],[6.8,100],[7.7,100],[7.8,5],[9,55],[10.5,100],[11.2,100],[11.3,5],[12.5,55],[13.8,100],[14.6,100],[14.7,5],[16,60],[17.2,100],[18,100],[18.1,5],[19.4,55],[20.6,100],[21.2,100],[21.3,5],[22.6,60],[23.8,100],[24.9,100],[25,5],[26.2,55],[27.3,100],[28.1,100],[28.2,5],[29.5,60],[30.7,100],[31.7,100],[31.8,5],[33,80],[33.1,0]];
const mpbBB = [[33.1,0],[33.2,100],[77.8,100],[77.9,0]];
const mpbBC = [[77.9,0],[78,100],[93.4,100],[93.5,0]];
const mpbBD = [[93.5,0],[93.6,30],[94.5,100],[96.2,100],[96.3,5],[97.5,60],[99,100],[99.8,100],[99.9,5],[101.3,100],[101.5,100],[101.6,5],[102.8,60],[103.7,100],[104.4,100],[104.5,5],[106,60],[107.2,100],[107.6,100],[107.7,5],[109,60],[110.3,100],[110.4,5],[111.8,60],[113.3,100],[113.4,5],[114.8,60],[116.3,100],[117.2,100],[117.3,5],[118.5,40],[119.8,50],[120,0]];

const mpbMSolid = [[0,0],[0.8,100],[1.5,0],[4.1,100],[5.1,0],[7.7,100],[8.7,0],[11.1,100],[12.4,0],[14.6,100],[15.5,0],[18,100],[19.1,0],[21.2,100],[22.3,0],[24.9,100],[25.8,0],[28.1,100],[29.1,0],[31.6,100],[32.7,0],[33.9,100],[34.3,0],[51.8,100],[53.5,0],[59,100],[61.4,0],[62,100],[63,0],[66.5,100],[67.2,0],[75.3,100],[76.2,0],[86.2,100],[86.9,0],[90.9,100],[92,0],[96,100],[96.4,0],[99.6,100],[100,0],[101.3,100],[101.7,0],[103.7,100],[104.6,0],[109.5,100],[110.4,0],[112.6,100],[113.5,0],[116.3,100],[117.4,0],[119.5,100],[120,0],[127,0]];
const mpbMSpikes = [[50.4,0,100],[64.8,0,100],[69.1,0,100],[78.6,0,100],[82.7,0,100],[83.3,0,100],[107.7,0,100]];
const mpbMMid = [[120,100],[121.5,90],[122.5,80],[123.5,60],[124.5,50],[125.5,40],[126.5,30],[127,30]];

const mpbPA = [[0,60],[0.5,100],[1.5,100],[1.6,10],[2.5,60],[3.5,100],[4.1,100],[4.2,5],[5.5,60],[6.8,100],[7.7,100],[7.8,5],[9,55],[10.5,100],[11.2,100],[11.3,5],[12.5,55],[13.8,100],[14.6,100],[14.7,5],[16,60],[17.2,100],[18,100],[18.1,5],[19.4,55],[20.6,100],[21.2,100],[21.3,5],[22.6,60],[23.8,100],[24.9,100],[25,5],[26.2,55],[27.3,100],[28.1,100],[28.2,5],[29.5,60],[30.7,100],[31.7,100],[31.8,5],[33,80],[33.1,0]];
const mpbPB = [[33.1,0],[33.2,100],[77.8,100],[77.9,0]];
const mpbPC = [[77.9,0],[78,100],[93.4,100],[93.5,0]];
const mpbPD = [[93.5,0],[93.6,30],[94.5,100],[96.2,100],[96.3,5],[97.5,60],[99,100],[99.8,100],[99.9,5],[101.3,100],[101.5,100],[101.6,5],[102.8,60],[103.7,100],[104.4,100],[104.5,5],[106,60],[107.2,100],[107.6,100],[107.7,5],[109,60],[110.3,100],[110.4,5],[111.8,60],[113.3,100],[113.4,5],[114.8,60],[116.3,100],[117.2,100],[117.3,5],[118.5,40],[119.8,50],[120,0]];
const mpbPE = [[120,25],[121,24],[122,22],[123,20],[124,18],[125,15],[126,12],[127,10]];

const mpbGSolid = [[0,0],[33.8,100],[34.4,0],[51.8,100],[53.5,0],[59,100],[60.7,0],[62.6,100],[63.5,0],[66.5,100],[67.5,0],[69,100],[69.6,0],[75.3,100],[76.2,0],[77.8,100],[78.8,0],[82.3,100],[83,0],[86.3,100],[86.9,0],[91,25],[91.6,0],[127,0]];
const mpbGSpikes = [[50.4,0,97],[59.8,0,60],[73.5,0,100],[81.4,0,100],[84.1,0,100],[91.2,0,100],[92.8,0,100]];

const mpbUSolid = [[0,0],[34,100],[34.4,0],[51.8,100],[53.5,0],[62.6,100],[63.1,0],[66.6,100],[67.3,0],[69.1,100],[69.5,0],[75.3,100],[76.2,0],[86.3,100],[86.9,0],[91,100],[91.6,0],[127,0]];
const mpbUSpikes = [[50.4,0,100],[59,0,100],[59.4,0,100],[59.7,0,100],[60.3,0,100],[61,0,100],[78.3,0,100],[78.8,0,100],[81.4,0,100],[82.6,0,100],[83.2,0,100],[92.3,0,100],[96.3,0,100]];

// ---------- panel setup ----------
const colors = ['#000000', '#ff0000', '#0000ff', '#ff00ff', '#ffc0cb', '#008000', '#800080'];

const panels = [
  // index
  {ymax: 5, step: 2, dec: 0, layers: [['step','solid',idxTotSolid],['step','dense',idxTotDense],['step','sparse',idxTotSparse]], spikes: idxTotSpikes},
  {ymax: 2, step: 0.5, dec: 1, layers: [['step','solid',idxRSolid],['step','dense',idxRDense]], spikes: idxRSpikes},
  {ymax: 2, step: 0.5, dec: 1, layers: [['step','solid',idxBSolid],['step','sparse',idxBSparse],['step','mid',idxBMid]], spikes: idxBSpikes},
  {ymax: 3, step: 1, dec: 0, layers: [['step','solid',idxMSolid],['step','sparse',idxMSparse]], spikes: idxMSpikes},
  {ymax: 2, step: 0.5, dec: 1, layers: [['step','solid',idxPSolid],['step','sparse',idxPSparse],['step','mid',idxPMid],['step','dense',idxPDense]], spikes: idxPSpikes},
  {ymax: 2, step: 0.5, dec: 1, layers: [['step','solid',idxGSolid]], spikes: idxGSpikes},
  {ymax: 3, step: 1, dec: 0, layers: [['step','solid',idxUSolid]], spikes: idxUSpikes},
  // packet-len
  {ymax: 4400, step: 2000, dec: 0, layers: [['step','solid',lenTotSolid],['step','dense',lenTotDense]], spikes: lenTotSpikes},
  {ymax: 2000, step: 500, dec: 0, layers: [['step','solid',lenRSolid],['step','dense',lenRDense]], spikes: lenRSpikes},
  {ymax: 2000, step: 500, dec: 0, layers: [['step','solid',lenBSolid],['step','sparse',lenBSparse],['step','mid',lenBMid]], spikes: lenBSpikes},
  {ymax: 4100, step: 2000, dec: 0, layers: [['step','solid',lenMSolid],['step','sparse',lenMSparse]], spikes: lenMSpikes},
  {ymax: 2720, step: 1000, dec: 0, layers: [['step','solid',lenPSolid],['step','sparse',lenPSparse],['step','mid',lenPMid],['step','dense',lenPDense]], spikes: lenPSpikes},
  {ymax: 1700, step: 500, dec: 0, layers: [['step','solid',lenGSolid]], spikes: lenGSpikes},
  {ymax: 4070, step: 2000, dec: 0, layers: [['step','solid',lenUSolid]], spikes: lenUSpikes},
  // total-delay
  {ymax: 1230e3, step: 500e3, dec: 'e6', layers: [['curve','line',tdlTotLine],['step','solid',tdlTotBlocks],['step','dense',tdlTotTail]], spikes: []},
  {ymax: 1075e3, step: 500e3, dec: 'e6', layers: [['curve','solid',tdlRA],['curve','dense',tdlRB],['curve','solid',tdlRC]], spikes: tdlRSpikes},
  {ymax: 1410e3, step: 500e3, dec: 'e6', layers: [['curve','solid',tdlBA],['curve','sparse',tdlBB],['curve','solid',tdlBC],['curve','mid',tdlBD],['curve','solid',tdlBE]], spikes: tdlBSpikes},
  {ymax: 1075e3, step: 500e3, dec: 'e6', layers: [['curve','solid',tdlMA],['curve','dense',tdlMB],['curve','solid',tdlMC],['step','dense',tdlMTail]], spikes: tdlMSpikes},
  {ymax: 1410e3, step: 500e3, dec: 'e6', layers: [['curve','solid',tdlPA],['curve','sparse',tdlPB],['curve','solid',tdlPC],['curve','mid',tdlPD],['curve','solid',tdlPE],['step','mid',tdlPTail]], spikes: tdlPSpikes},
  {ymax: 820e3, step: 250e3, dec: 0, layers: [['curve','solid',tdlGA]], spikes: []},
  {ymax: 816e3, step: 250e3, dec: 0, layers: [['curve','edge',tdlUA],['step','solid',tdlUB]], spikes: []},
  // queue-delay
  {ymax: 776e3, step: 200e3, dec: 0, layers: [['curve','thick',qdlTotA],['curve','solid',qdlTotB],['curve','solid',qdlTotC],['curve','thick',qdlTotD]], spikes: qdlTotSpikes},
  {ymax: 12900, step: 5000, dec: 0, layers: [['step','solid',qdlGBase],['step','dense',qdlRDense],['step','mid',qdlRMid],['step','sparse',qdlRSparse]], spikes: qdlRSpikes},
  {ymax: 12240, step: 5000, dec: 0, layers: [['step','solid',qdlGBase],['step','dense',qdlBDense],['step','mid',qdlBMid]], spikes: qdlBSpikes},
  {ymax: 787e3, step: 200e3, dec: 0, layers: [['curve','solid',qdlMA],['curve','dense',qdlMB],['curve','solid',qdlMC]], spikes: []},
  {ymax: 787e3, step: 200e3, dec: 0, layers: [['curve','solid',qdlPA],['curve','sparse',qdlPB],['curve','solid',qdlPC],['curve','mid',qdlPD],['curve','solid',qdlPE]], spikes: []},
  {ymax: 12300, step: 5000, dec: 0, layers: [['step','solid',qdlGBase]], spikes: qdlGSpikes},
  {ymax: 772e3, step: 200e3, dec: 0, layers: [['curve','edge',qdlUA],['curve','solid',qdlUB]], spikes: []},
  // queue-occups
  {ymax: 127, step: 50, dec: 0, layers: [['curve','thick',qocTotA],['curve','solid',qocTotB],['curve','solid',qocTotC],['curve','thick',qocTotD]], spikes: qocTotSpikes},
  {ymax: 2, step: 0.5, dec: 1, layers: [['step','solid',qocRBase],['step','dense',qocRDense],['step','mid',qocRMid]], spikes: qocRSpikes},
  {ymax: 1, step: 0.25, dec: 2, layers: [['step','solid',qocBBase],['step','mid',qocBMid]], spikes: qocBSpikes},
  {ymax: 128.7, step: 50, dec: 0, layers: [['curve','solid',qocMA],['curve','dense',qocMB],['curve','solid',qocMC]], spikes: []},
  {ymax: 127.6, step: 50, dec: 0, layers: [['curve','solid',qocPA],['curve','sparse',qocPB],['curve','solid',qocPC],['curve','mid',qocPD],['curve','solid',qocPE]], spikes: []},
  {ymax: 1.5, step: 0.5, dec: 1, layers: [['step','solid',qocGBase]], spikes: qocGSpikes},
  {ymax: 127.5, step: 50, dec: 0, layers: [['curve','edge',qocUA],['curve','solid',qocUB]], spikes: []},
  // step-mark
  {ymax: 4, step: 1, dec: 0, layers: [['step','solid',smkTotBase],['step','solid',smkTotSolid],['step','mid',smkTotMid],['step','sparse',smkTotSparse],['step','dense',smkTotDense]], spikes: smkTotSpikes},
  {ymax: 2, step: 0.5, dec: 1, layers: [['step','solid',smkRSolid]], spikes: smkRSpikes},
  {ymax: 2, step: 0.5, dec: 1, layers: [['step','solid',smkBSolid],['step','sparse',smkBSparse],['step','mid',smkBMid]], spikes: smkBSpikes},
  {ymax: 3, step: 1, dec: 0, layers: [['step','solid',smkMSolid],['step','sparse',smkMSparse]], spikes: smkMSpikes},
  {ymax: 2, step: 0.5, dec: 1, layers: [['step','solid',smkPSolid],['step','mid',smkPMid],['step','sparse',smkPSparse],['step','dense',smkPDense]], spikes: []},
  {ymax: 2, step: 0.5, dec: 1, layers: [['step','solid',smkGSolid]], spikes: smkGSpikes},
  {ymax: 3, step: 1, dec: 0, layers: [['step','solid',smkUSolid]], spikes: smkUSpikes},
  // mark-proba
  {ymax: 100, step: 25, dec: 0, layers: [['step','solid',mpbTotBase],['step','dense',mpbTotDense],['step','sparse',mpbTotSparse],['step','mid',mpbTotMid]], spikes: []},
  {ymax: 100, step: 25, dec: 0, layers: [['step','solid',mpbRSolid]], spikes: mpbRSpikes},
  {ymax: 100, step: 25, dec: 0, layers: [['step','solid',mpbBBase],['curve','dense',mpbBA],['curve','sparse',mpbBB],['curve','mid',mpbBC],['curve','dense',mpbBD]], spikes: []},
  {ymax: 100, step: 25, dec: 0, layers: [['step','solid',mpbMSolid],['step','mid',mpbMMid]], spikes: mpbMSpikes},
  {ymax: 100, step: 25, dec: 0, layers: [['curve','dense',mpbPA],['curve','sparse',mpbPB],['curve','mid',mpbPC],['curve','dense',mpbPD],['step','mid',mpbPE]], spikes: []},
  {ymax: 100, step: 25, dec: 0, layers: [['step','solid',mpbGSolid]], spikes: mpbGSpikes},
  {ymax: 100, step: 25, dec: 0, layers: [['step','solid',mpbUSolid]], spikes: mpbUSpikes}
];

const FONT = 'DejaVu Sans';
const TRANSPARENT = 'rgba(0,0,0,0)';

// vertical stripes stand in for runs of separate 10 ms lines
const stripeSizes = {dense: [5, 4], edge: [4, 3], mid: [4, 2], sparse: [10, 2]};
const patterns = {};
function fillFor(color, style) {
  if (style === 'solid') return color;
  const key = color + style;
  if (!patterns[key]) {
    const [period, on] = stripeSizes[style];
    const c = document.createElement('canvas');
    c.width = period; c.height = 4;
    const g = c.getContext('2d');
    g.fillStyle = color;
    g.fillRect(0, 0, on, 4);
    patterns[key] = g.createPattern(c, 'repeat');
  }
  return patterns[key];
}

function layerDatasets(layer, color) {
  const [kind, style, rows] = layer;
  const lo = [], hi = [];
  let hasLo = false;
  const vals = r => r.length === 3 ? [r[1], r[2]] : [0, r[1]];
  if (kind === 'step') {
    for (let i = 0; i + 1 < rows.length; i++) {
      const [l, h] = vals(rows[i]);
      if (l) hasLo = true;
      lo.push({x: rows[i][0], y: l}, {x: rows[i + 1][0], y: l});
      hi.push({x: rows[i][0], y: h}, {x: rows[i + 1][0], y: h});
    }
  } else {
    rows.forEach(r => {
      const [l, h] = vals(r);
      if (l) hasLo = true;
      lo.push({x: r[0], y: l});
      hi.push({x: r[0], y: h});
    });
  }
  const isLine = style === 'line' || style === 'thick';
  const bw = {solid: 1, edge: 1, line: 2, thick: 5}[style] || 0;
  const main = {
    type: 'line', data: hi, pointRadius: 0, tension: 0,
    borderColor: bw ? color : TRANSPARENT, borderWidth: bw,
    backgroundColor: isLine ? TRANSPARENT : fillFor(color, style),
    fill: isLine ? false : (hasLo ? '-1' : 'origin')
  };
  if (hasLo && !isLine) {
    return [{type: 'line', data: lo, pointRadius: 0, borderWidth: 0, borderColor: TRANSPARENT, fill: false}, main];
  }
  return [main];
}

function spikeDataset(rows, color) {
  return {
    type: 'bar',
    data: rows.map(r => ({x: r[0], y: r.length === 3 ? [r[1], r[2]] : [0, r[1]]})),
    backgroundColor: color, borderWidth: 0, barThickness: 1.6
  };
}

// frame, legend box, group title and offset text, drawn the matplotlib way
const decor = {
  id: 'decor',
  afterDraw(chart, args, opts) {
    const {ctx, chartArea: a} = chart;
    ctx.save();
    ctx.strokeStyle = '#000';
    ctx.lineWidth = 1;
    ctx.strokeRect(a.left + 0.5, a.top + 0.5, a.right - a.left - 1, a.bottom - a.top - 1);

    ctx.font = '9.3px "' + FONT + '"';
    const tw = ctx.measureText(opts.label).width;
    const bx = a.left + 5, by = a.top + 6, bw = tw + 35, bh = 17.5, r = 2.5;
    ctx.beginPath();
    ctx.moveTo(bx + r, by);
    ctx.arcTo(bx + bw, by, bx + bw, by + bh, r);
    ctx.arcTo(bx + bw, by + bh, bx, by + bh, r);
    ctx.arcTo(bx, by + bh, bx, by, r);
    ctx.arcTo(bx, by, bx + bw, by, r);
    ctx.closePath();
    ctx.fillStyle = 'rgba(255,255,255,0.8)';
    ctx.fill();
    ctx.strokeStyle = '#cccccc';
    ctx.lineWidth = 1;
    ctx.stroke();
    ctx.beginPath();
    ctx.moveTo(bx + 4, by + bh / 2);
    ctx.lineTo(bx + 24, by + bh / 2);
    ctx.strokeStyle = opts.color;
    ctx.lineWidth = 1.5;
    ctx.stroke();
    ctx.fillStyle = '#000';
    ctx.textBaseline = 'middle';
    ctx.textAlign = 'left';
    ctx.fillText(opts.label, bx + 30, by + bh / 2 + 0.5);

    if (opts.offset) {
      ctx.fillText(opts.offset, a.left, a.top - 6);
    }
    if (opts.title) {
      ctx.font = '11px "' + FONT + '"';
      ctx.textAlign = 'center';
      ctx.fillText(opts.title, (a.left + a.right) / 2, a.top - 10);
    }
    ctx.restore();
  }
};

const wrap = document.getElementById('wrap');
const PITCH = 108.17;

panels.forEach((p, i) => {
  const color = colors[i % 7];
  const canvas = document.createElement('canvas');
  canvas.width = 1685;
  canvas.height = 131;
  canvas.style.top = Math.round(i * PITCH) + 'px';
  wrap.appendChild(canvas);

  const datasets = [];
  p.layers.forEach(l => datasets.push(...layerDatasets(l, color)));
  if (p.spikes.length) datasets.push(spikeDataset(p.spikes, color));

  const yTicks = [];
  for (let v = 0; v <= p.ymax + 1e-9; v += p.step) yTicks.push({value: +v.toFixed(6)});
  const tickFont = {family: FONT, size: 9.3};
  const grid = {color: '#b0b0b0', lineWidth: 0.8, tickColor: '#000', tickLength: 4, tickWidth: 0.8, offset: false};

  new Chart(canvas, {
    type: 'line',
    data: {datasets},
    options: {
      responsive: false,
      animation: false,
      devicePixelRatio: 1,
      events: [],
      layout: {padding: {top: 22, right: 7, left: 0, bottom: 0}},
      plugins: {
        legend: {display: false},
        tooltip: {enabled: false},
        decor: {
          label: legendLabels[i],
          color: color,
          title: i % 7 === 0 ? groupTitles[i / 7] : null,
          offset: p.dec === 'e6' ? '1e6' : null
        }
      },
      scales: {
        x: {
          type: 'linear', min: 0, max: 127, offset: false,
          afterBuildTicks: s => { s.ticks = xTicks.map(v => ({value: v})); },
          afterFit: s => { s.height = 18; },
          ticks: {callback: (v, idx) => xTickLabels[idx], font: tickFont, color: '#000', maxRotation: 0, autoSkip: false, padding: 2},
          grid: grid,
          border: {color: '#000', width: 1}
        },
        y: {
          type: 'linear', min: 0, max: p.ymax,
          afterBuildTicks: s => { s.ticks = yTicks.map(t => ({value: t.value})); },
          afterFit: s => { s.width = 52; },
          ticks: {
            callback: v => p.dec === 'e6' ? (v / 1e6).toFixed(1) : v.toFixed(p.dec),
            font: tickFont, color: '#000', padding: 2
          },
          grid: grid,
          border: {color: '#000', width: 1}
        }
      }
    },
    plugins: [decor]
  });
});
</script>
</body>
</html>
